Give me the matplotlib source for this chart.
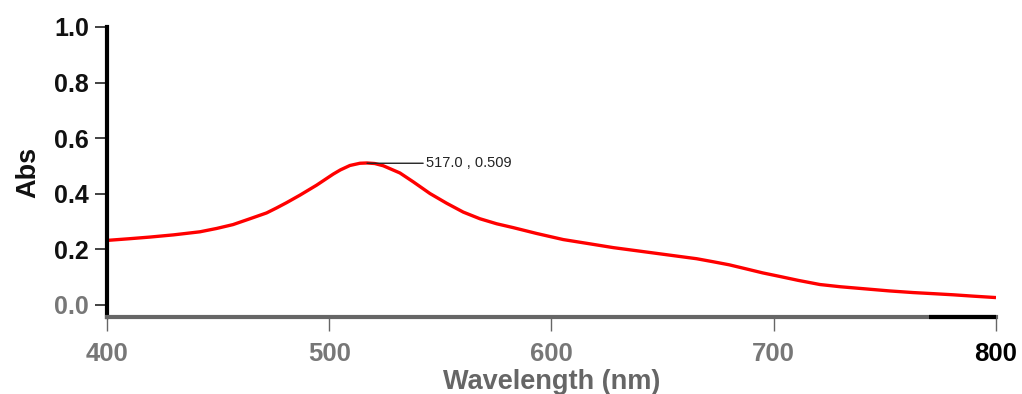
import matplotlib
matplotlib.use("Agg")
import matplotlib.pyplot as plt

# Data
wavelength = [400, 410, 419.3, 430, 441.8, 449.3, 456.7, 464.3, 471.8, 476.3, 480.8,
              486.8, 494.3, 501.8, 505, 509.3, 513.8, 517.0, 520.5, 524.3, 531.8,
              537.8, 545.3, 552.8, 560.3, 567.8, 575.3, 582.8, 593.3, 605.3, 617,
              627.8, 640, 650.3, 665.3, 672.8, 680, 687.8, 695, 702.8, 711, 720.8,
              730, 740.3, 752, 762.8, 772, 780.8, 790, 800]
absorbance = [0.231, 0.237, 0.243, 0.251, 0.262, 0.274, 0.288, 0.309, 0.330, 0.348, 0.367,
              0.394, 0.430, 0.470, 0.485, 0.501, 0.509, 0.510, 0.508, 0.500, 0.474,
              0.442, 0.400, 0.365, 0.333, 0.309, 0.291, 0.277, 0.256, 0.234, 0.219,
              0.205, 0.192, 0.181, 0.165, 0.154, 0.143, 0.128, 0.114, 0.101, 0.087, 0.072,
              0.064, 0.057, 0.049, 0.043, 0.039, 0.035, 0.030, 0.025]
peak_x, peak_y = 517.0, 0.509
xticks = [400, 500, 600, 700, 800]
yticks = [0.0, 0.2, 0.4, 0.6, 0.8, 1.0]

plt.rcParams['font.family'] = ['Liberation Sans', 'DejaVu Sans']

fig = plt.figure(figsize=(10.22, 3.94), dpi=100)
ax = fig.add_axes([107/1022, 1-317/394, (996-107)/1022, (317-27)/394])

ax.plot(wavelength, absorbance, color='#ff0000', lw=2.4, solid_joinstyle='round',
        solid_capstyle='butt')

ax.set_xlim(400, 800)
ax.set_ylim(-0.045, 1.0)

# peak annotation
ax.annotate(f"{peak_x:.1f} , {peak_y:.3f}", xy=(peak_x, peak_y), xytext=(543.5, peak_y),
            fontsize=10.5, color='#222222', va='center', ha='left',
            arrowprops=dict(arrowstyle='-', color='#222222', lw=1.0, shrinkA=0, shrinkB=0))

for s in ['top', 'right']:
    ax.spines[s].set_visible(False)
ax.spines['left'].set_linewidth(3)
ax.spines['left'].set_color('black')
ax.spines['left'].set_bounds(-0.045, 1.0)
ax.spines['bottom'].set_linewidth(3)
ax.spines['bottom'].set_color('#666666')
ax.plot([770, 800], [-0.045, -0.045], color='black', lw=3, clip_on=False,
        solid_capstyle='butt', zorder=5)

ax.set_xticks(xticks)
ax.set_xticklabels([str(t) for t in xticks])
ax.set_yticks(yticks)
ax.set_yticklabels([f"{t:.1f}" for t in yticks])

ax.tick_params(axis='y', direction='out', length=9, width=1.3, color='#333333',
               labelsize=18, pad=4)
ax.tick_params(axis='x', direction='out', length=10, width=1.0, color='#666666',
               labelsize=18.5, pad=8)
for lbl in ax.get_yticklabels():
    lbl.set_fontweight('bold')
    lbl.set_color('#111111')
ax.get_yticklabels()[0].set_color('#777777')
for lbl in ax.get_xticklabels():
    lbl.set_fontweight('bold')
    lbl.set_color('#777777')
ax.get_xticklabels()[-1].set_color('#000000')

ax.set_xlabel("Wavelength (nm)", fontsize=19.5, fontweight='bold', color='#666666', labelpad=2)
ax.set_ylabel("Abs", fontsize=19.5, fontweight='bold', color='#111111', labelpad=9)

fig.savefig("out.png", dpi=100)
